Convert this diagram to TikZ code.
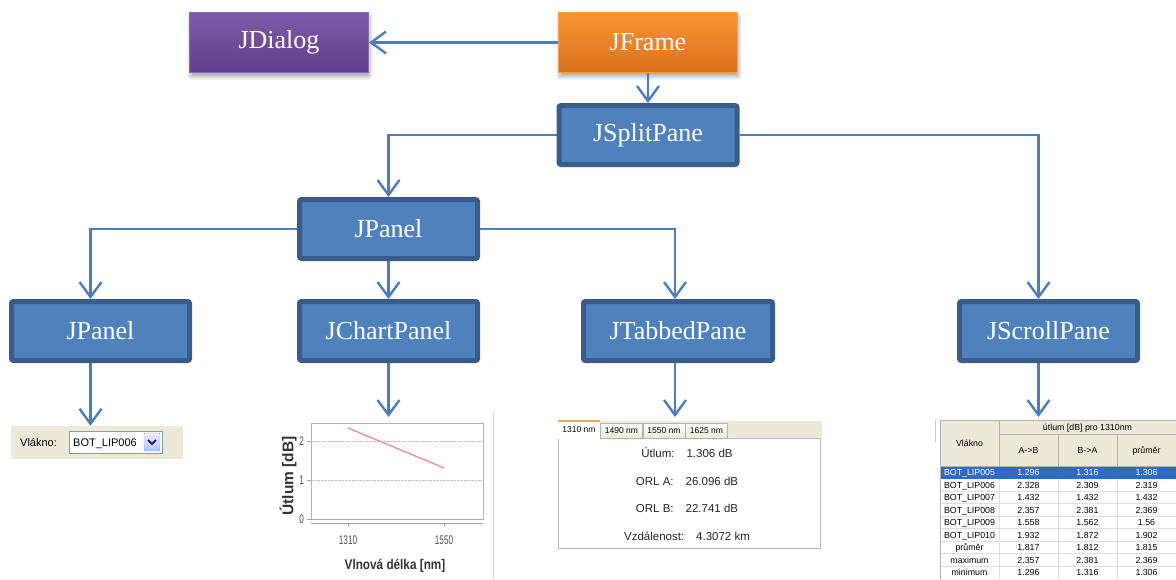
\documentclass[tikz,border=0pt]{standalone}
\usepackage{fontspec}
\setmainfont{Liberation Serif}
\newfontfamily\guifont{Liberation Sans}
\newfontfamily\tickfont[FakeStretch=0.65]{Liberation Sans}
\newfontfamily\axisfont[FakeStretch=0.84]{Liberation Sans}
\usetikzlibrary{arrows.meta,shadows.blur}
\newcommand{\diagfont}{\fontsize{26}{30}\selectfont}

\definecolor{boxblue}{HTML}{4F81BD}
\definecolor{boxline}{HTML}{385D8A}
\definecolor{arrowblue}{HTML}{4A7EBB}
\definecolor{dlgtop}{HTML}{7E5BA9}
\definecolor{dlgbot}{HTML}{603F88}
\definecolor{dlgline}{HTML}{8A6BB3}
\definecolor{frmtop}{HTML}{F99633}
\definecolor{frmbot}{HTML}{DA701E}
\definecolor{frmline}{HTML}{F7A04E}
\definecolor{beige}{HTML}{ECE9D8}
\definecolor{combol}{HTML}{7F9DB9}
\definecolor{selblue}{HTML}{316AC5}
\definecolor{tabline}{HTML}{F2A93B}

\tikzset{
  box/.style={draw=boxline, line width=5pt, fill=boxblue, rounded corners=2pt,
    text=white, font=\diagfont, minimum width=178pt, minimum height=59pt, inner sep=0pt},
  topbox/.style={line width=1pt, text=white, font=\diagfont, minimum width=179pt,
    minimum height=60pt, inner sep=0pt,
    blur shadow={shadow xshift=1pt, shadow yshift=-4pt, shadow blur steps=8,
      shadow blur radius=4pt, shadow opacity=35}},
  arr/.style={draw=arrowblue, line width=2.4pt, -{Straight Barb[length=15pt,width=22pt]}},
  gui/.style={font=\guifont\fontsize{11}{13}\selectfont, inner sep=0pt},
  info/.style={font=\guifont\fontsize{11.5}{13}\selectfont, text=black!85, inner sep=0pt},
  tab/.style={draw=gray!60, top color=white, bottom color=beige, minimum width=42pt,
    minimum height=15pt, inner sep=0pt, font=\guifont\fontsize{8.5}{10}\selectfont},
  cell/.style={font=\guifont\fontsize{8.8}{10}\selectfont, inner sep=0pt,
    text height=6.4pt, text depth=0pt},
  ticklbl/.style={font=\tickfont\fontsize{12.5}{14}\selectfont, text=black!70, inner sep=0pt}
}

\begin{document}
\begin{tikzpicture}[x=1pt,y=-1pt]
  \useasboundingbox (0,0) rectangle (1176,579);

  \node[topbox, top color=dlgtop, bottom color=dlgbot, draw=dlgline] (dialog) at (279,42.5) {JDialog};
  \node[topbox, top color=frmtop, bottom color=frmbot, draw=frmline] (frame) at (648,42.5) {JFrame};

  \node[box] (split) at (648,135) {JSplitPane};
  \node[box] (panel) at (388.5,229) {JPanel};
  \node[box] (lpanel) at (100.5,331) {JPanel};
  \node[box] (chart) at (388.5,331) {JChartPanel};
  \node[box, minimum width=189pt] (tabbed) at (678,331) {JTabbedPane};
  \node[box] (scroll) at (1048.5,331) {JScrollPane};

  % combo box
  \node[fill=beige, minimum width=172pt, minimum height=33pt, inner sep=0pt] (combo) at (97,442.5) {};
  \node[gui, anchor=west] (vlabel) at (20,442) {Vlákno:};
  \node[draw=combol, fill=white, minimum width=93pt, minimum height=22pt, inner sep=0pt] (cbox) at (115.5,442) {};
  \node[gui, anchor=west, text height=8pt, text depth=0pt] (cval) at (73,442) {BOT\_LIP006};
  \node[draw=combol!80, top color=blue!8, bottom color=blue!25, rounded corners=1pt,
    minimum width=16pt, minimum height=18pt, inner sep=0pt] (cbtn) at (152,442) {};
  \draw[blue!50!black, line width=1.5pt] (148,440) -- (152,444) -- (156,440);

  % chart
  \coordinate (chartin) at (388.5,417);
  \draw[gray!35] (493,412) -- (493,579);
  \draw[gray!60] (311,423) rectangle (483,519);
  \draw[gray!50, densely dotted] (311,441) -- (483,441) (311,480) -- (483,480);
  \draw[gray!70, line width=1pt] (311,519) -- (483,519);
  \draw[gray!70, line width=1pt] (311,523) -- (483,523);
  \draw[gray!70] (307,441) -- (311,441) (307,480) -- (311,480) (307,519) -- (311,519)
    (348,523) -- (348,527) (444,523) -- (444,527);
  \draw[red!50, line width=1.2pt] (348,428) -- (444,468);
  \node[ticklbl, anchor=east] (ytwo) at (304,441) {2};
  \node[ticklbl, anchor=east] (yone) at (304,480) {1};
  \node[ticklbl, anchor=east] (yzero) at (304,519) {0};
  \node[ticklbl] (xa) at (348,540) {1310};
  \node[ticklbl] (xb) at (444,540) {1550};
  \node[font=\axisfont\bfseries\fontsize{14}{16}\selectfont, text=black!80, inner sep=0pt] (xlab) at (395,566) {Vlnová délka [nm]};
  \node[font=\guifont\bfseries\fontsize{15.5}{17}\selectfont, text=black!80, inner sep=0pt, rotate=90] (ylab) at (288,476) {Útlum [dB]};

  % tabbed pane
  \coordinate (tabin) at (675,417);
  \fill[beige] (558,421) rectangle (822,438);
  \draw[gray!55, fill=white] (558,438) rectangle (820,548);
  \node[tab] (t1490) at (621.5,430.5) {1490 nm};
  \node[tab] (t1550) at (664,430.5) {1550 nm};
  \node[tab] (t1625) at (706.5,430.5) {1625 nm};
  \node[fill=white, minimum width=42pt, minimum height=18pt, inner sep=0pt,
    font=\guifont\fontsize{8.5}{10}\selectfont] (t1310) at (579,429.5) {1310 nm};
  \draw[tabline, line width=2pt] (558,421) -- (600,421);
  \node[info] (utlum) at (687,453) {Útlum:\hspace{12pt}1.306 dB};
  \node[info] (orla) at (687,481) {ORL A:\hspace{12pt}26.096 dB};
  \node[info] (orlb) at (687,508) {ORL B:\hspace{12pt}22.741 dB};
  \node[info] (vzd) at (687,536) {Vzdálenost:\hspace{12pt}4.3072 km};

  % table
  \coordinate (tablein) at (1038.5,417);
  \draw[gray!40] (935,420) -- (935,442);
  \fill[beige] (940,420) rectangle (1176,466);
  \fill[white] (940,466) rectangle (1176,579);
  \fill[selblue] (940,466) rectangle (1176,478.5);
  \draw[gray!25] (940,491) -- (1176,491) (940,503.5) -- (1176,503.5) (940,516) -- (1176,516)
    (940,528.5) -- (1176,528.5) (940,541) -- (1176,541) (940,553.5) -- (1176,553.5)
    (940,566) -- (1176,566) (999,478.5) -- (999,579) (1058,478.5) -- (1058,579) (1117,478.5) -- (1117,579);
  \draw[gray!60] (940,420) -- (1176,420) (940,420) -- (940,579) (940,466) -- (1176,466)
    (999,420) -- (999,466) (999,434) -- (1176,434) (1058,434) -- (1058,466) (1117,434) -- (1117,466);
  \node[cell] (hvl) at (969.5,443) {Vlákno};
  \node[cell] (hut) at (1087.5,427) {útlum [dB] pro 1310nm};
  \node[cell] (hab) at (1028.5,450) {A->B};
  \node[cell] (hba) at (1087.5,450) {B->A};
  \node[cell] (hpr) at (1146.5,450) {průměr};
  \node[cell, text=white] (n0) at (969.5,472.3) {BOT\_LIP005};
  \node[cell, text=white] (ab0) at (1028.5,472.3) {1.296};
  \node[cell, text=white] (ba0) at (1087.5,472.3) {1.316};
  \node[cell, text=white] (avg0) at (1146.5,472.3) {1.306};
  \foreach \nm/\ab/\ba/\avg [count=\i] in {BOT\_LIP006/2.328/2.309/2.319,
      BOT\_LIP007/1.432/1.432/1.432, BOT\_LIP008/2.357/2.381/2.369,
      BOT\_LIP009/1.558/1.562/1.56, BOT\_LIP010/1.932/1.872/1.902,
      průměr/1.817/1.812/1.815, maximum/2.357/2.381/2.369, minimum/1.296/1.316/1.306} {
    \node[cell] (n\i) at (969.5,472.3+12.5*\i) {\nm};
    \node[cell] (ab\i) at (1028.5,472.3+12.5*\i) {\ab};
    \node[cell] (ba\i) at (1087.5,472.3+12.5*\i) {\ba};
    \node[cell] (avg\i) at (1146.5,472.3+12.5*\i) {\avg};
  }

  \path[arr]
    (frame) edge (dialog)
    (frame) edge (split)
    (panel) edge (chart)
    (chart) edge (chartin);
  \draw[arr] (split.west) -| (panel.north);
  \draw[arr] (split.east) -| ([xshift=-10pt]scroll.north);
  \draw[arr] (panel.west) -| ([xshift=-10pt]lpanel.north);
  \draw[arr] (panel.east) -| ([xshift=-3pt]tabbed.north);
  \draw[arr] ([xshift=-10pt]lpanel.south) -- ([xshift=-10pt]lpanel.south |- combo.north);
  \draw[arr] ([xshift=-3pt]tabbed.south) -- (tabin);
  \draw[arr] ([xshift=-10pt]scroll.south) -- (tablein);
\end{tikzpicture}
\end{document}
